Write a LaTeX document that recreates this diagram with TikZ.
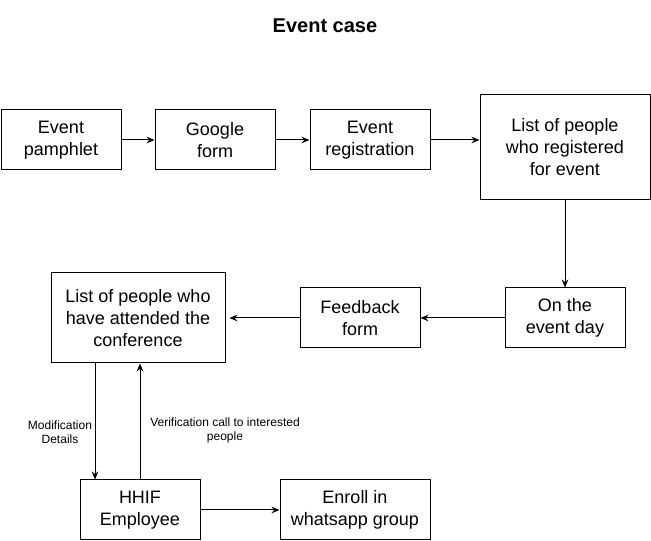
\documentclass[tikz,border=0pt]{standalone}
\usepackage{fontspec}
\setmainfont{Liberation Sans}
\usetikzlibrary{arrows.meta}

\tikzset{
  box/.style={draw, line width=0.75pt, align=center, inner sep=2pt,
    font=\fontsize{13.5}{16.5}\selectfont},
  arr/.style={line width=0.75pt, -{Stealth[length=6pt,width=5pt]}},
  lbl/.style={align=center, font=\fontsize{9}{10.5}\selectfont}
}

\begin{document}
\begin{tikzpicture}[x=0.75pt,y=-0.75pt]
		\useasboundingbox (0,0) rectangle (651,541);
		
		\node[font=\fontsize{15}{18}\selectfont\bfseries] (title) at (325,26) {Event case};
		
		% top row
		\node[box, minimum width=90pt, minimum height=45pt] (pamphlet) at (61,140) {Event\\pamphlet};
		\node[box, minimum width=90pt, minimum height=45pt] (google) at (215,140) {Google\\form};
		\node[box, minimum width=90pt, minimum height=45pt] (reg) at (370,140) {Event\\registration};
		\node[box, minimum width=127.5pt, minimum height=78.75pt] (regd) at (565,147.5) {List of people\\who registered\\for event};
		
		% middle row
		\node[box, minimum width=90pt, minimum height=45pt] (day) at (565,318) {On the\\event day};
		\node[box, minimum width=90pt, minimum height=45pt] (feedback) at (360,318) {Feedback\\form};
		\node[box, minimum width=130.5pt, minimum height=67.5pt] (attended) at (138,318) {List of people who\\have attended the\\conference};
		
		% bottom row
		\node[box, minimum width=90pt, minimum height=45pt] (hhif) at (140,510) {HHIF\\Employee};
		\node[box, minimum width=112.5pt, minimum height=45pt] (enroll) at (355,510) {Enroll in\\whatsapp group};
		
		\draw[arr] (pamphlet) -- (google);
		\draw[arr] (google) -- (reg);
		\draw[arr] (reg.east) -- (regd.west |- reg.east);
		\draw[arr] (regd) -- (day);
		\draw[arr] (day) -- (feedback);
		\draw[arr] (feedback) -- ([xshift=3pt]attended.east);
		\draw[arr] (hhif) -- (enroll);
		
		\coordinate (down) at ([xshift=-32.25pt]attended.south);
		\draw[arr] (down) -- (down |- hhif.north);
		\draw[arr] (hhif.north) -- (hhif.north |- attended.south);
		
		\node[lbl] (modlbl) at (60,432) {Modification\\Details};
		\node[lbl] (verlbl) at (225,430) {Verification call to interested\\people};
	\end{tikzpicture}
\end{document}
